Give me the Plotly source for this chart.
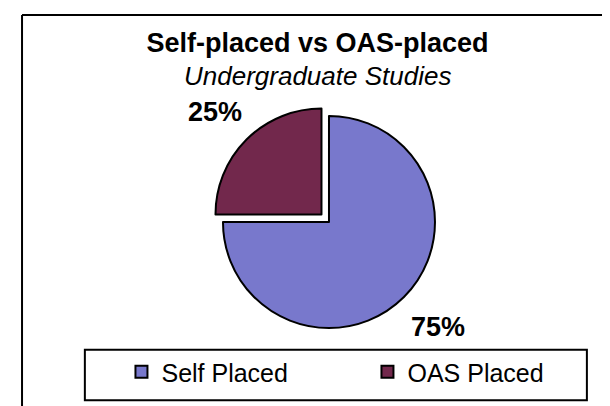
import plotly.graph_objects as go

labels = ["Self Placed", "OAS Placed"]
values = [75, 25]
colors = ["#7878cc", "#72284c"]
pulls = [0, 0.1]

font_family = "Arial, Liberation Sans, sans-serif"
total = sum(values)

fig = go.Figure(go.Pie(
    labels=labels, values=values, sort=False, direction="clockwise", rotation=0,
    pull=pulls,
    marker=dict(colors=colors, line=dict(color="black", width=2)),
    textinfo="none",
    domain=dict(x=[0.30, 0.7524], y=[0.1857, 0.7601]),
    hoverinfo="label+percent",
))

# percentage labels outside the slices
label_pos = {"OAS Placed": (0.340, 0.744), "Self Placed": (0.705, 0.214)}
for lab, val in zip(labels, values):
    x, y = label_pos[lab]
    fig.add_annotation(
        x=x, y=y, xref="paper", yref="paper", showarrow=False,
        xanchor="center", yanchor="middle",
        text=f"<b>{val / total:.0%}</b>",
        font=dict(family=font_family, size=27, color="black"),
    )

# subtitle line under the title
fig.add_annotation(
    x=0.5074, y=0.8325, xref="paper", yref="paper", showarrow=False,
    xanchor="center", yanchor="middle",
    text="<i>Undergraduate Studies</i>",
    font=dict(family=font_family, size=26, color="black"),
)

fig.update_layout(
    width=610, height=406,
    margin=dict(l=0, r=0, t=0, b=0),
    paper_bgcolor="white", plot_bgcolor="white",
    font=dict(family=font_family, color="black"),
    title=dict(
        text="<b>Self-placed vs OAS-placed</b>",
        x=0.5074, xanchor="center", y=0.9138, yanchor="middle",
        font=dict(size=27, color="black"),
    ),
    showlegend=True,
    legend=dict(
        orientation="h", x=0.186, xanchor="left", y=0.1034, yanchor="middle",
        font=dict(size=25, color="black"),
        entrywidth=201, entrywidthmode="pixels",
        bgcolor="rgba(0,0,0,0)", borderwidth=0,
    ),
    shapes=[
        # outer chart frame (only top and left edges fall inside the window)
        dict(type="line", xref="paper", yref="paper", x0=0.023, x1=1.01, y0=0.983, y1=0.983,
             line=dict(color="black", width=2)),
        dict(type="line", xref="paper", yref="paper", x0=0.023, x1=0.023, y0=-0.01, y1=0.983,
             line=dict(color="black", width=2)),
        # legend box
        dict(type="rect", xref="paper", yref="paper", x0=0.126, x1=0.949, y0=0.034, y1=0.158,
             line=dict(color="black", width=2), fillcolor="rgba(0,0,0,0)"),
    ],
)

fig.write_html("out.html")
